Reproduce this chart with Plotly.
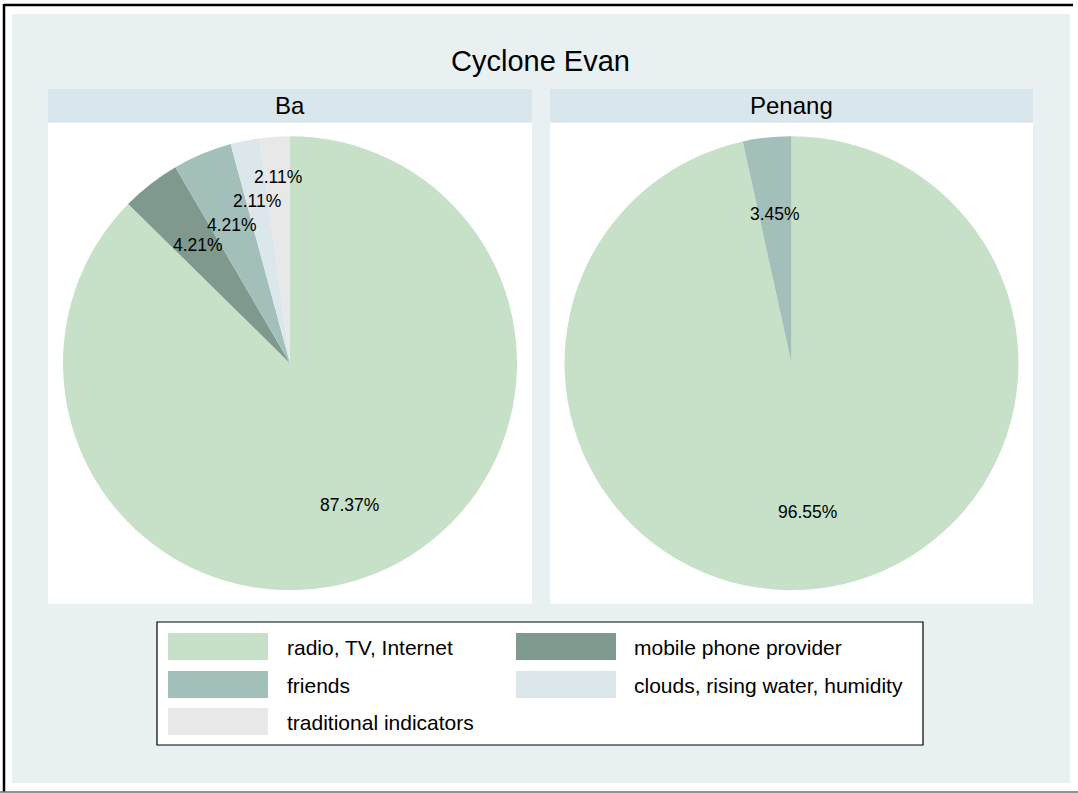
import plotly.graph_objects as go
import math

# ---- data ----
categories = ["radio, TV, Internet", "mobile phone provider", "friends",
              "clouds, rising water, humidity", "traditional indicators"]
panels = ["Ba", "Penang"]
ba_counts = [83, 4, 4, 2, 2]
penang_counts = [28, 0, 1, 0, 0]
title_text = "Cyclone Evan"

# ---- style ----
colors = ["#C6E1C7", "#7F998F", "#A3BFBA", "#DCE7EC", "#E8E8E8"]
W, H = 1078, 793
FONT = "Liberation Sans, Arial, sans-serif"
label_r = {"Ba": [0.675, 0.66, 0.66, 0.73, 0.82], "Penang": [0.66, 0.66, 0.66, 0.66, 0.66]}
panel_box = {"Ba": (48, 532), "Penang": (550, 1033)}
strip_y = (89, 122.7)
panel_y = (122.7, 603.7)
pie_r = 227


def px(x):
    return x / W


def py(y):
    return 1 - y / H


fig = go.Figure()
shapes = []
annotations = []

# background frame
shapes.append(dict(type="rect", xref="paper", yref="paper", x0=px(12), x1=px(1070),
                   y0=py(783), y1=py(14), fillcolor="#E8F0F2", line=dict(width=0), layer="below"))
shapes.append(dict(type="line", xref="paper", yref="paper", x0=px(4), x1=px(1073),
                   y0=py(5), y1=py(5), line=dict(color="black", width=2.5)))
shapes.append(dict(type="line", xref="paper", yref="paper", x0=px(4), x1=px(4),
                   y0=py(4), y1=py(792), line=dict(color="black", width=2.5)))
shapes.append(dict(type="line", xref="paper", yref="paper", x0=px(0), x1=px(1078),
                   y0=py(792), y1=py(792), line=dict(color="#6E6E6E", width=1.5)))

annotations.append(dict(text=title_text, xref="paper", yref="paper", x=px(540), y=py(61),
                        showarrow=False, font=dict(family=FONT, size=29, color="black"),
                        xanchor="center", yanchor="middle"))

for name, counts in zip(panels, [ba_counts, penang_counts]):
    x0, x1 = panel_box[name]
    shapes.append(dict(type="rect", xref="paper", yref="paper", x0=px(x0), x1=px(x1),
                       y0=py(strip_y[1]), y1=py(strip_y[0]), fillcolor="#D9E6EB",
                       line=dict(width=0), layer="below"))
    shapes.append(dict(type="rect", xref="paper", yref="paper", x0=px(x0), x1=px(x1),
                       y0=py(panel_y[1]), y1=py(panel_y[0]), fillcolor="white",
                       line=dict(width=0), layer="below"))
    annotations.append(dict(text=name, xref="paper", yref="paper", x=px((x0 + x1) / 2),
                            y=py(105.5), showarrow=False,
                            font=dict(family=FONT, size=24, color="black"),
                            xanchor="center", yanchor="middle"))
    cx = (x0 + x1) / 2
    cy = (panel_y[0] + panel_y[1]) / 2
    fig.add_trace(go.Pie(
        labels=categories, values=counts, sort=False, direction="clockwise",
        rotation=0, textinfo="none", hoverinfo="skip", showlegend=False,
        marker=dict(colors=colors, line=dict(width=0)),
        domain=dict(x=[px(cx - pie_r), px(cx + pie_r)], y=[py(cy + pie_r), py(cy - pie_r)]),
    ))
    total = sum(counts)
    cum = 0
    for i, c in enumerate(counts):
        if c == 0:
            continue
        mid = (cum + c / 2) / total * 2 * math.pi
        cum += c
        r = label_r[name][i] * pie_r
        lx = cx + r * math.sin(mid)
        ly = cy - r * math.cos(mid)
        annotations.append(dict(text=f"{100 * c / total:.2f}%", xref="paper", yref="paper",
                                x=px(lx), y=py(ly), showarrow=False,
                                font=dict(family=FONT, size=17.5, color="black"),
                                xanchor="center", yanchor="middle"))

# legend (manual, Stata style)
shapes.append(dict(type="rect", xref="paper", yref="paper", x0=px(157), x1=px(923),
                   y0=py(745), y1=py(622), fillcolor="white",
                   line=dict(color="black", width=1.2)))
col_sw = [168, 516]
col_tx = [285, 632]
row_y = [633, 671, 708]
for i, (cat, col) in enumerate(zip(categories, colors)):
    r, c = divmod(i, 2)
    shapes.append(dict(type="rect", xref="paper", yref="paper", x0=px(col_sw[c]),
                       x1=px(col_sw[c] + 100), y0=py(row_y[r] + 27), y1=py(row_y[r]),
                       fillcolor=col, line=dict(width=0)))
    annotations.append(dict(text=cat, xref="paper", yref="paper", x=px(col_tx[c]),
                            y=py(row_y[r] + 14), showarrow=False,
                            font=dict(family=FONT, size=21, color="black"),
                            xanchor="left", yanchor="middle"))

fig.update_layout(width=W, height=H, margin=dict(l=0, r=0, t=0, b=0, pad=0),
                  paper_bgcolor="white", plot_bgcolor="white",
                  shapes=shapes, annotations=annotations, showlegend=False)

fig.write_html("out.html", config={"displayModeBar": False},
               post_script="document.body.style.margin='0';")
